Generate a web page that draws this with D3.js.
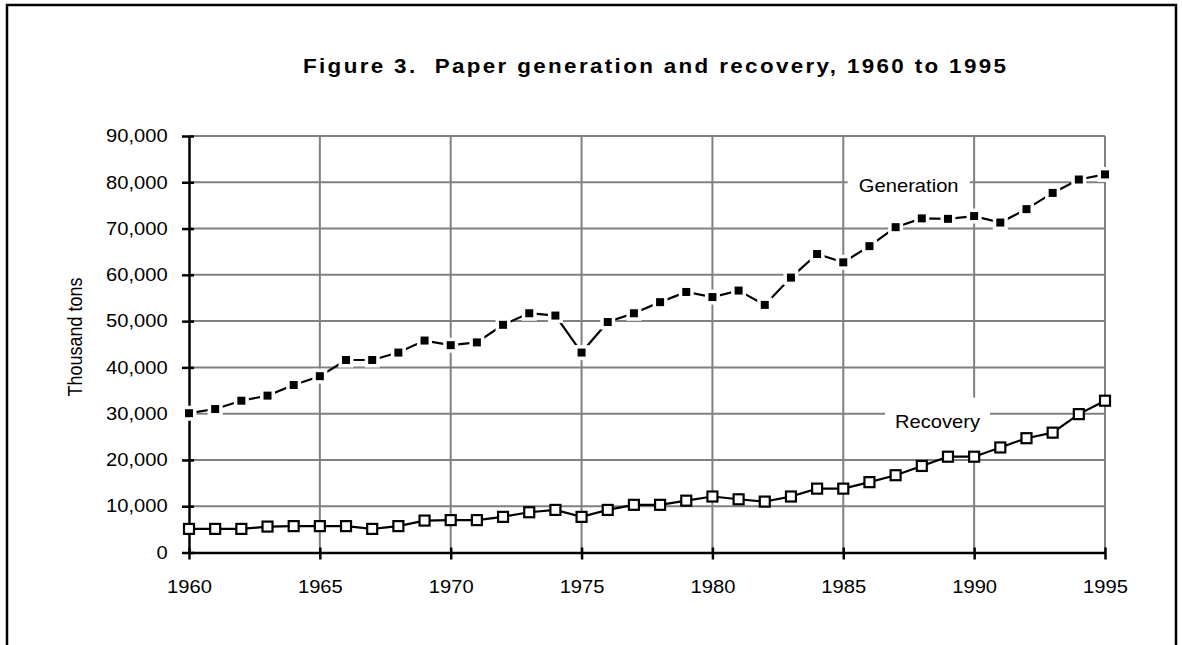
<!DOCTYPE html>
<html>
<head>
<meta charset="utf-8">
<script src="https://cdn.jsdelivr.net/npm/d3@7"></script>
<style>
  body { margin: 0; background: #fff; }
  text { font-family: Arial, "Liberation Sans", sans-serif; }
</style>
</head>
<body>
<svg id="chart" width="1182" height="645"></svg>
<script>
// Data (thousand tons)
var years = d3.range(1960, 1996);
var generation = [30100, 31000, 32800, 33900, 36200, 38100, 41600, 41600, 43200, 45800,
                  44800, 45400, 49200, 51700, 51200, 43200, 49800, 51700, 54100, 56300,
                  55200, 56600, 53500, 59400, 64500, 62700, 66200, 70300, 72200, 72100,
                  72700, 71300, 74200, 77700, 80600, 81700];
var recovery = [5100, 5100, 5100, 5600, 5700, 5700, 5700, 5100, 5700, 6900,
                7000, 7000, 7700, 8700, 9200, 7700, 9200, 10300, 10300, 11200,
                12100, 11500, 11000, 12100, 13800, 13800, 15200, 16700, 18700, 20700,
                20700, 22700, 24700, 25900, 29900, 32800];
var xTicks = [1960, 1965, 1970, 1975, 1980, 1985, 1990, 1995];
var yTicks = [0, 10000, 20000, 30000, 40000, 50000, 60000, 70000, 80000, 90000];
var seriesLabels = [
    { text: "Generation", year: 1987.5, value: 79300, w: 122, h: 32 },
    { text: "Recovery", year: 1988.6, value: 28300, w: 105, h: 54 }
];
var title = "Figure 3.  Paper generation and recovery, 1960 to 1995";

var svg = d3.select("#chart");
var stretch = 1.12; // the original text is slightly wide

var x = d3.scaleLinear().domain([1960, 1995]).range([189, 1105]);
var y = d3.scaleLinear().domain([0, 90000]).range([552.5, 136]);

// Outer frame
svg.append("rect")
    .attr("x", 7).attr("y", 5)
    .attr("width", 1169).attr("height", 700)
    .attr("fill", "none")
    .attr("stroke", "#000")
    .attr("stroke-width", 2.5);

// Title
svg.append("text")
    .attr("transform", "translate(303,73) scale(" + stretch + ",1)")
    .attr("textLength", 703 / stretch)
    .attr("lengthAdjust", "spacing")
    .style("white-space", "pre")
    .style("font-size", "20px")
    .style("font-weight", "bold")
    .text(title);

// Grid
var grid = svg.append("g");
grid.selectAll("line.h")
    .data(yTicks.filter(function (d) { return d > 0; }))
    .enter().append("line")
    .attr("x1", x(1960)).attr("x2", x(1995))
    .attr("y1", function (d) { return y(d); })
    .attr("y2", function (d) { return y(d); })
    .attr("stroke", "#808080").attr("stroke-width", 2);
grid.selectAll("line.v")
    .data(xTicks.filter(function (d) { return d > 1960; }))
    .enter().append("line")
    .attr("x1", function (d) { return x(d); })
    .attr("x2", function (d) { return x(d); })
    .attr("y1", y(90000)).attr("y2", y(0))
    .attr("stroke", "#808080").attr("stroke-width", 2);

// Label boxes sit on the grid
var lab = svg.append("g").selectAll("g")
    .data(seriesLabels)
    .enter().append("g")
    .attr("transform", function (d) { return "translate(" + x(d.year) + "," + y(d.value) + ")"; });
lab.append("rect")
    .attr("x", function (d) { return -d.w / 2; })
    .attr("y", function (d) { return d.text == "Recovery" ? -24 : -d.h / 2; })
    .attr("width", function (d) { return d.w; })
    .attr("height", function (d) { return d.h; })
    .attr("fill", "#fff");
lab.append("text")
    .attr("text-anchor", "middle")
    .attr("dy", "0.35em")
    .attr("transform", "scale(" + stretch + ",1)")
    .style("font-size", "18px")
    .text(function (d) { return d.text; });

// Axes
var yAxis = svg.append("g")
    .attr("transform", "translate(" + x(1960) + ",0)")
    .call(d3.axisLeft(y).tickValues(yTicks).tickSizeInner(7).tickSizeOuter(0)
        .tickFormat(d3.format(",")));
var xAxis = svg.append("g")
    .attr("transform", "translate(0," + y(0) + ")")
    .call(d3.axisBottom(x).tickValues(xTicks).tickSizeInner(7).tickSizeOuter(0)
        .tickFormat(d3.format("d")));

[yAxis, xAxis].forEach(function (a) {
    a.select(".domain").attr("stroke", "#000").attr("stroke-width", 2.5);
    a.selectAll(".tick line").attr("stroke", "#000").attr("stroke-width", 2.5);
    a.selectAll("text")
        .attr("fill", "#000")
        .style("font-size", "18px")
        .style("font-family", "Arial, 'Liberation Sans', sans-serif");
});
yAxis.selectAll(".tick line").attr("x1", 5);
yAxis.selectAll("text").attr("x", -19).attr("transform", "scale(" + stretch + ",1)");
xAxis.selectAll(".tick line").attr("y1", -5);
xAxis.selectAll("text").attr("y", 28).attr("transform", "scale(" + stretch + ",1)");

// Axis title
svg.append("text")
    .attr("transform", "translate(82,337) rotate(-90) scale(1," + stretch + ")")
    .attr("text-anchor", "middle")
    .style("font-size", "18px")
    .text("Thousand tons");

// Series
var line = d3.line()
    .x(function (d, i) { return x(years[i]); })
    .y(function (d) { return y(d); });

svg.append("path")
    .datum(recovery)
    .attr("d", line)
    .attr("fill", "none").attr("stroke", "#000").attr("stroke-width", 2.2);
svg.append("g").selectAll("rect")
    .data(recovery)
    .enter().append("rect")
    .attr("x", function (d, i) { return x(years[i]) - 5; })
    .attr("y", function (d) { return y(d) - 5; })
    .attr("width", 10).attr("height", 10)
    .attr("fill", "#fff").attr("stroke", "#000").attr("stroke-width", 2.2);

svg.append("path")
    .datum(generation)
    .attr("d", line)
    .attr("fill", "none").attr("stroke", "#000").attr("stroke-width", 2.2);
svg.append("g").selectAll("rect")
    .data(generation)
    .enter().append("rect")
    .attr("x", function (d, i) { return x(years[i]) - 4; })
    .attr("y", function (d) { return y(d) - 4; })
    .attr("width", 8).attr("height", 8)
    .attr("fill", "#000")
    .attr("stroke", "#fff").attr("stroke-width", 7)
    .style("paint-order", "stroke");
</script>
</body>
</html>
